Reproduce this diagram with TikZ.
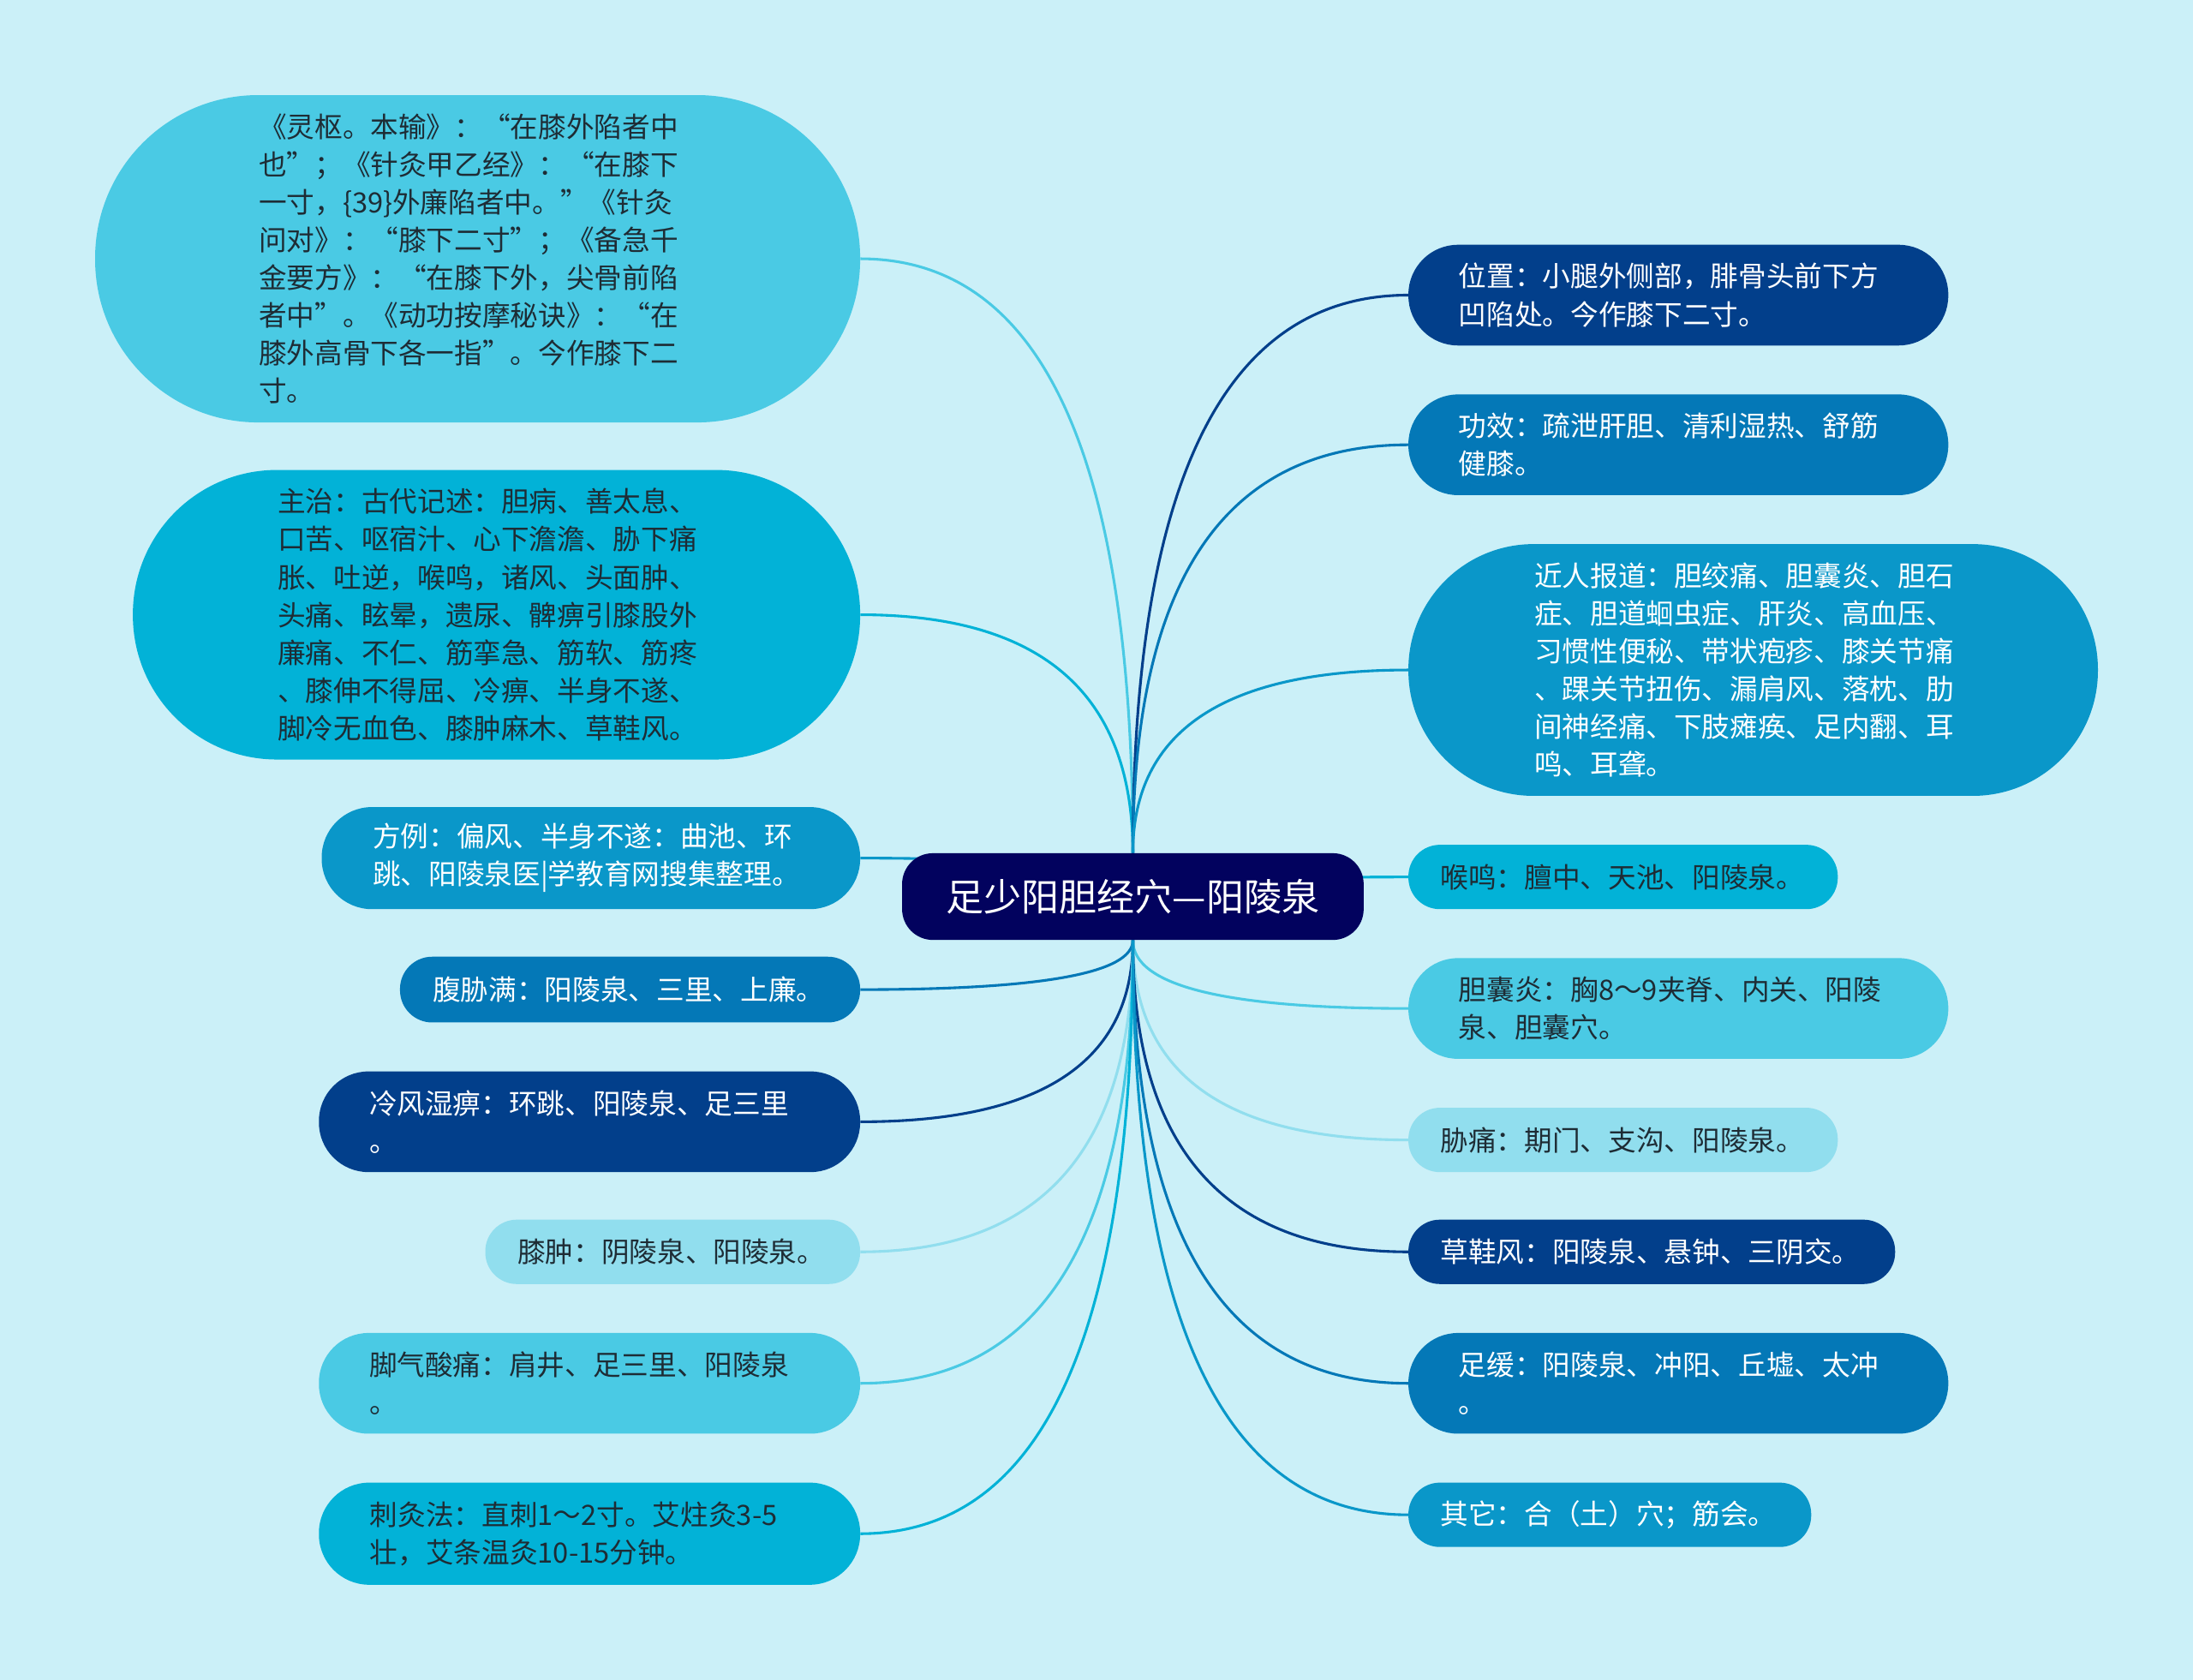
\documentclass[tikz,border=0pt]{standalone}
\usepackage{fontspec}
\setmainfont{Noto Sans CJK SC}
\usetikzlibrary{calc}

\definecolor{bgsky}{HTML}{CBF0F8}
\definecolor{hubnavy}{HTML}{02025E}
\definecolor{deepblue}{HTML}{023F8B}
\definecolor{seablue}{HTML}{0478B7}
\definecolor{midblue}{HTML}{0A97C9}
\definecolor{cyanblue}{HTML}{02B2D7}
\definecolor{lightcyan}{HTML}{4ACAE4}
\definecolor{palecyan}{HTML}{91DEEE}
\definecolor{inkgray}{HTML}{1E2C35}

\pgfdeclarelayer{back}
\pgfsetlayers{back,main}

\tikzset{
  hub/.style={rectangle,fill=hubnavy,text=white,inner sep=0pt,minimum width=330pt,minimum height=62pt,rounded corners=22pt,font=\fontsize{27}{30}\selectfont},
  leaf/.style={rectangle,inner sep=0pt,align=left,font=\fontsize{20}{27}\selectfont},
  darkleaf/.style={leaf,text=white},
  lightleaf/.style={leaf,text=inkgray},
  branch/.style={line width=1.9pt,to path={.. controls ($(\tikztostart)!.667!(\tikztostart |- \tikztotarget)$) and ($(\tikztotarget)!.667!(\tikztostart |- \tikztotarget)$) .. (\tikztotarget)}}
}

\begin{document}
\begin{tikzpicture}[x=1pt,y=-1pt]
  \useasboundingbox (0,0) rectangle (1568,1201);
  \begin{pgfonlayer}{back}
    \fill[bgsky] (0,0) rectangle (1568,1201);
  \end{pgfonlayer}

  \node[hub] (hub) at (810,641) {足少阳胆经穴—阳陵泉};

  % left
  \node[lightleaf,fill=lightcyan,minimum width=547pt,minimum height=234pt,text width=313pt,rounded corners=116.5pt] (lingshu) at (341.5,185) {《灵枢。本输》：“在膝外陷者中\\也”；《针灸甲乙经》：“在膝下\\一寸，\{39\}外廉陷者中。”《针灸\\问对》：“膝下二寸”；《备急千\\金要方》：“在膝下外，尖骨前陷\\者中”。《动功按摩秘诀》：“在\\膝外高骨下各一指”。今作膝下二\\寸。};
  \node[lightleaf,fill=cyanblue,minimum width=520pt,minimum height=207pt,text width=313pt,rounded corners=103pt] (zhuzhi) at (355,439.5) {主治：古代记述：胆病、善太息、\\口苦、呕宿汁、心下澹澹、胁下痛\\胀、吐逆，喉鸣，诸风、头面肿、\\头痛、眩晕，遗尿、髀痹引膝股外\\廉痛、不仁、筋挛急、筋软、筋疼\\、膝伸不得屈、冷痹、半身不遂、\\脚冷无血色、膝肿麻木、草鞋风。};
  \node[darkleaf,fill=midblue,minimum width=385pt,minimum height=73pt,text width=312pt,rounded corners=36pt] (fangli) at (422.5,613.5) {方例：偏风、半身不遂：曲池、环\\跳、阳陵泉医|学教育网搜集整理。};
  \node[darkleaf,fill=seablue,minimum width=329pt,minimum height=47pt,text width=282pt,rounded corners=23pt] (fuxie) at (450.5,707.5) {腹胁满：阳陵泉、三里、上廉。};
  \node[darkleaf,fill=deepblue,minimum width=387pt,minimum height=72pt,text width=315pt,rounded corners=35.5pt] (lengfeng) at (421.5,802) {冷风湿痹：环跳、阳陵泉、足三里\\。};
  \node[lightleaf,fill=palecyan,minimum width=268pt,minimum height=46pt,text width=222pt,rounded corners=22.5pt] (xizhong) at (481,895) {膝肿：阴陵泉、阳陵泉。};
  \node[lightleaf,fill=lightcyan,minimum width=387pt,minimum height=72pt,text width=315pt,rounded corners=35.5pt] (jiaoqi) at (421.5,989) {脚气酸痛：肩井、足三里、阳陵泉\\。};
  \node[lightleaf,fill=cyanblue,minimum width=387pt,minimum height=73pt,text width=314pt,rounded corners=36pt] (cijiu) at (421.5,1096.5) {刺灸法：直刺1～2寸。艾炷灸3-5\\壮，艾条温灸10-15分钟。};

  % right
  \node[darkleaf,fill=deepblue,minimum width=386pt,minimum height=72pt,text width=314pt,rounded corners=35.5pt] (weizhi) at (1200,211) {位置：小腿外侧部，腓骨头前下方\\凹陷处。今作膝下二寸。};
  \node[darkleaf,fill=seablue,minimum width=386pt,minimum height=72pt,text width=314pt,rounded corners=35.5pt] (gongxiao) at (1200,318) {功效：疏泄肝胆、清利湿热、舒筋\\健膝。};
  \node[darkleaf,fill=midblue,minimum width=493pt,minimum height=180pt,text width=313pt,rounded corners=89.5pt] (jinren) at (1253.5,479) {近人报道：胆绞痛、胆囊炎、胆石\\症、胆道蛔虫症、肝炎、高血压、\\习惯性便秘、带状疱疹、膝关节痛\\、踝关节扭伤、漏肩风、落枕、肋\\间神经痛、下肢瘫痪、足内翻、耳\\鸣、耳聋。};
  \node[lightleaf,fill=cyanblue,minimum width=307pt,minimum height=46pt,text width=261pt,rounded corners=22.5pt] (houming) at (1160.5,627) {喉鸣：膻中、天池、阳陵泉。};
  \node[lightleaf,fill=lightcyan,minimum width=386pt,minimum height=72pt,text width=314pt,rounded corners=35.5pt] (danlang) at (1200,721) {胆囊炎：胸8～9夹脊、内关、阳陵\\泉、胆囊穴。};
  \node[lightleaf,fill=palecyan,minimum width=307pt,minimum height=46pt,text width=261pt,rounded corners=22.5pt] (xietong) at (1160.5,815) {胁痛：期门、支沟、阳陵泉。};
  \node[darkleaf,fill=deepblue,minimum width=348pt,minimum height=46pt,text width=302pt,rounded corners=22.5pt] (caoxie) at (1181,895) {草鞋风：阳陵泉、悬钟、三阴交。};
  \node[darkleaf,fill=seablue,minimum width=386pt,minimum height=72pt,text width=314pt,rounded corners=35.5pt] (zuhuan) at (1200,989) {足缓：阳陵泉、冲阳、丘墟、太冲\\。};
  \node[darkleaf,fill=midblue,minimum width=288pt,minimum height=46pt,text width=242pt,rounded corners=22.5pt] (qita) at (1151,1083) {其它：合（土）穴；筋会。};

  \begin{pgfonlayer}{back}
    \draw[branch,lightcyan](hub.north) to (lingshu.east);
    \draw[branch,cyanblue](hub.north) to (zhuzhi.east);
    \draw[branch,midblue](hub.center) to (fangli.east);
    \draw[branch,seablue](hub.south) to (fuxie.east);
    \draw[branch,deepblue](hub.south) to (lengfeng.east);
    \draw[branch,palecyan](hub.south) to (xizhong.east);
    \draw[branch,lightcyan](hub.south) to (jiaoqi.east);
    \draw[branch,cyanblue](hub.south) to (cijiu.east);
    \draw[branch,deepblue](hub.north) to (weizhi.west);
    \draw[branch,seablue](hub.north) to (gongxiao.west);
    \draw[branch,midblue](hub.north) to (jinren.west);
    \draw[branch,cyanblue](hub.center) to (houming.west);
    \draw[branch,lightcyan](hub.south) to (danlang.west);
    \draw[branch,palecyan](hub.south) to (xietong.west);
    \draw[branch,deepblue](hub.south) to (caoxie.west);
    \draw[branch,seablue](hub.south) to (zuhuan.west);
    \draw[branch,midblue](hub.south) to (qita.west);
  \end{pgfonlayer}
\end{tikzpicture}
\end{document}
